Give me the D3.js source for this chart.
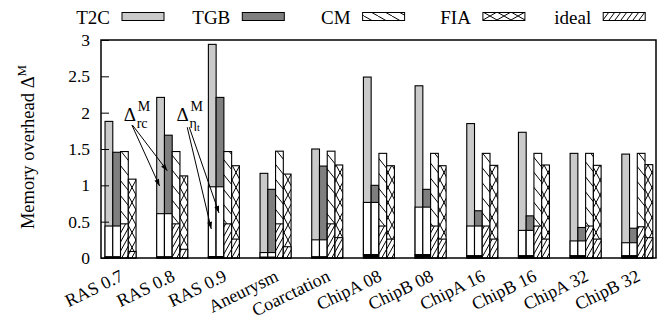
<!DOCTYPE html>
<html lang="en">
<head>
<meta charset="UTF-8">
<title>Memory overhead</title>
<script src="https://d3js.org/d3.v7.min.js"></script>
<style>
  body { margin: 0; background: #fff; }
  svg text { font-family: "Liberation Serif", "Times New Roman", serif; fill: #000; }
</style>
</head>
<body>
<div id="chart"></div>
<script>
// data
const categories = ["RAS 0.7", "RAS 0.8", "RAS 0.9", "Aneurysm", "Coarctation",
  "ChipA 08", "ChipB 08", "ChipA 16", "ChipB 16", "ChipA 32", "ChipB 32"];
const t2c      = [1.88, 2.21, 2.94, 1.165, 1.50, 2.49, 2.37, 1.85, 1.73, 1.44, 1.43];
const tgb      = [1.455, 1.69, 2.21, 0.945, 1.265, 1.00, 0.945, 0.65, 0.58, 0.42, 0.41];
const etaPart  = [0.44, 0.61, 0.98, 0.075, 0.25, 0.765, 0.70, 0.44, 0.38, 0.235, 0.21];
const basePart = [0.015, 0.015, 0.02, 0.01, 0.015, 0.045, 0.045, 0.03, 0.03, 0.03, 0.03];
const cm       = [1.465, 1.465, 1.465, 1.47, 1.47, 1.44, 1.44, 1.44, 1.44, 1.44, 1.44];
const cmIdeal  = [0.47, 0.47, 0.47, 0.47, 0.47, 0.44, 0.44, 0.44, 0.44, 0.44, 0.43];
const fia      = [1.085, 1.13, 1.27, 1.155, 1.28, 1.27, 1.27, 1.275, 1.28, 1.275, 1.285];
const fiaIdeal = [0.09, 0.12, 0.26, 0.155, 0.28, 0.26, 0.26, 0.26, 0.26, 0.26, 0.28];
const legendNames = ["T2C", "TGB", "CM", "FIA", "ideal"];
const yTicks = [0, 0.5, 1, 1.5, 2, 2.5, 3];
const yTickLabels = ["0", "0.5", "1", "1.5", "2", "2.5", "3"];

const W = 670, H = 320;
const margin = { top: 40, right: 14, bottom: 62, left: 101 };

const svg = d3.select("#chart").append("svg")
  .attr("width", W).attr("height", H);

// hatch patterns
const defs = svg.append("defs");
function hatch(id, w, h, dirs, sw) {
  const p = defs.append("pattern").attr("id", id)
    .attr("patternUnits", "userSpaceOnUse")
    .attr("width", w).attr("height", h);
  p.append("rect").attr("width", w).attr("height", h).attr("fill", "#fff");
  dirs.forEach(dir => {
    [-w, 0, w].forEach(dx => {
      const d = dir === "back"
        ? `M${dx},0L${dx + w},${h}`
        : `M${dx},${h}L${dx + w},0`;
      p.append("path").attr("d", d).attr("stroke", "#000")
        .attr("stroke-width", sw).attr("fill", "none");
    });
  });
}
hatch("pCM", 12, 15, ["back"], 1);
hatch("pFIA", 8, 15, ["back", "fwd"], 1);
hatch("pIdeal", 5, 9, ["fwd"], 1);
// key samples look a bit different in the figure
hatch("kCM", 14, 8, ["back"], 1);
hatch("kFIA", 14, 8, ["back", "fwd"], 1);
hatch("kIdeal", 6, 8, ["fwd"], 1);

const fills = { T2C: "#cacaca", TGB: "#7f7f7f", CM: "url(#pCM)", FIA: "url(#pFIA)", ideal: "url(#pIdeal)" };
const keyFills = { T2C: "#cacaca", TGB: "#7f7f7f", CM: "url(#kCM)", FIA: "url(#kFIA)", ideal: "url(#kIdeal)" };

const x = d3.scaleLinear()
  .domain([-0.378, categories.length - 1 + 0.362])
  .range([margin.left, W - margin.right]);
const y = d3.scaleLinear()
  .domain([0, 3])
  .range([H - margin.bottom, margin.top]);

const bw = 0.15; // bar width in category units
const barX = (i, k) => x(i + (k - 2) * bw);
const barW = x(bw) - x(0);

const g = svg.append("g");

function seg(i, k, v0, v1, fill) {
  g.append("rect")
    .attr("x", barX(i, k))
    .attr("y", y(v1))
    .attr("width", barW)
    .attr("height", Math.max(0, y(v0) - y(v1)))
    .attr("fill", fill)
    .attr("stroke", "#000")
    .attr("stroke-width", 1.1);
}

categories.forEach((c, i) => {
  // T2C and TGB: black base, white eta part, shaded rc part
  [[0, t2c[i], fills.T2C], [1, tgb[i], fills.TGB]].forEach(([k, tot, f]) => {
    seg(i, k, 0, tot, f);
    seg(i, k, basePart[i], etaPart[i], "#fff");
    seg(i, k, 0, basePart[i], "#000");
  });
  seg(i, 2, 0, cm[i], fills.CM);
  seg(i, 2, 0, cmIdeal[i], fills.ideal);
  seg(i, 3, 0, fia[i], fills.FIA);
  seg(i, 3, 0, fiaIdeal[i], fills.ideal);
});

// y axis, ticks pointing inwards
const yAxis = d3.axisLeft(y)
  .tickValues(yTicks)
  .tickFormat((d, i) => yTickLabels[i])
  .tickSize(-8)
  .tickPadding(11);
const ya = svg.append("g").attr("transform", `translate(${margin.left},0)`).call(yAxis);
ya.select(".domain").remove();
ya.selectAll("line").attr("stroke", "#000").attr("stroke-width", 1);
ya.selectAll("text").style("font-size", "17.5px").attr("font-family", null);

// frame
svg.append("rect")
  .attr("x", margin.left).attr("y", margin.top)
  .attr("width", W - margin.right - margin.left)
  .attr("height", H - margin.bottom - margin.top)
  .attr("fill", "none").attr("stroke", "#000").attr("stroke-width", 1.5);

// x labels
svg.append("g").selectAll("text")
  .data(categories)
  .join("text")
  .attr("transform", (d, i) => `translate(${x(i) + 4},${H - margin.bottom + 22}) rotate(-26)`)
  .attr("text-anchor", "end")
  .style("font-size", "18px")
  .text(d => d);

// y label
const yl = svg.append("text")
  .attr("transform", `translate(34,${(margin.top + H - margin.bottom) / 2 - 2}) rotate(-90)`)
  .attr("text-anchor", "middle")
  .style("font-size", "18.5px");
yl.append("tspan").text("Memory overhead \u0394");
yl.append("tspan").attr("dy", -8).style("font-size", "13px").text("M");

// legend
const leg = svg.append("g");
legendNames.forEach((n, j) => {
  const sx = 122 + j * 120.3;
  leg.append("rect")
    .attr("x", sx).attr("y", 12.5).attr("width", 42).attr("height", 8)
    .attr("fill", keyFills[n]).attr("stroke", "#000").attr("stroke-width", 1);
  leg.append("text")
    .attr("x", sx - 12).attr("y", 23.5)
    .attr("text-anchor", "end")
    .style("font-size", "19px")
    .text(n);
});

// annotations
defs.append("marker").attr("id", "arr")
  .attr("viewBox", "0 0 10 10").attr("refX", 10).attr("refY", 5)
  .attr("markerWidth", 8).attr("markerHeight", 7)
  .attr("markerUnits", "userSpaceOnUse")
  .attr("orient", "auto")
  .append("path").attr("d", "M0,1.5L10,5L0,8.5Z").attr("fill", "#000");

const arrows = [
  { from: [0.22, 1.83], bar: [1, 0], v: 0.99 },
  { from: [0.23, 1.83], bar: [1, 1], v: 1.20 },
  { from: [1.29, 1.80], bar: [2, 0], v: 0.40 },
  { from: [1.33, 1.80], bar: [2, 1], v: 0.62 }
];
arrows.forEach(a => {
  svg.append("line")
    .attr("x1", x(a.from[0])).attr("y1", y(a.from[1]))
    .attr("x2", barX(a.bar[0], a.bar[1]) + barW / 2 - 1).attr("y2", y(a.v))
    .attr("stroke", "#000").attr("stroke-width", 1)
    .attr("marker-end", "url(#arr)");
});

function deltaLabel(xi, yv, sub, subsub) {
  const bx = x(xi), by = y(yv);
  svg.append("text").attr("x", bx).attr("y", by).style("font-size", "19px").text("\u0394");
  svg.append("text").attr("x", bx + 14).attr("y", by - 10).style("font-size", "14px").text("M");
  const t = svg.append("text").attr("x", bx + 13).attr("y", by + 7).style("font-size", "14px").text(sub);
  if (subsub) t.append("tspan").attr("dy", 3).style("font-size", "10px").text(subsub);
}
deltaLabel(0.06, 1.885, "rc");
deltaLabel(1.085, 1.885, "\u03b7", "t");
</script>
</body>
</html>
